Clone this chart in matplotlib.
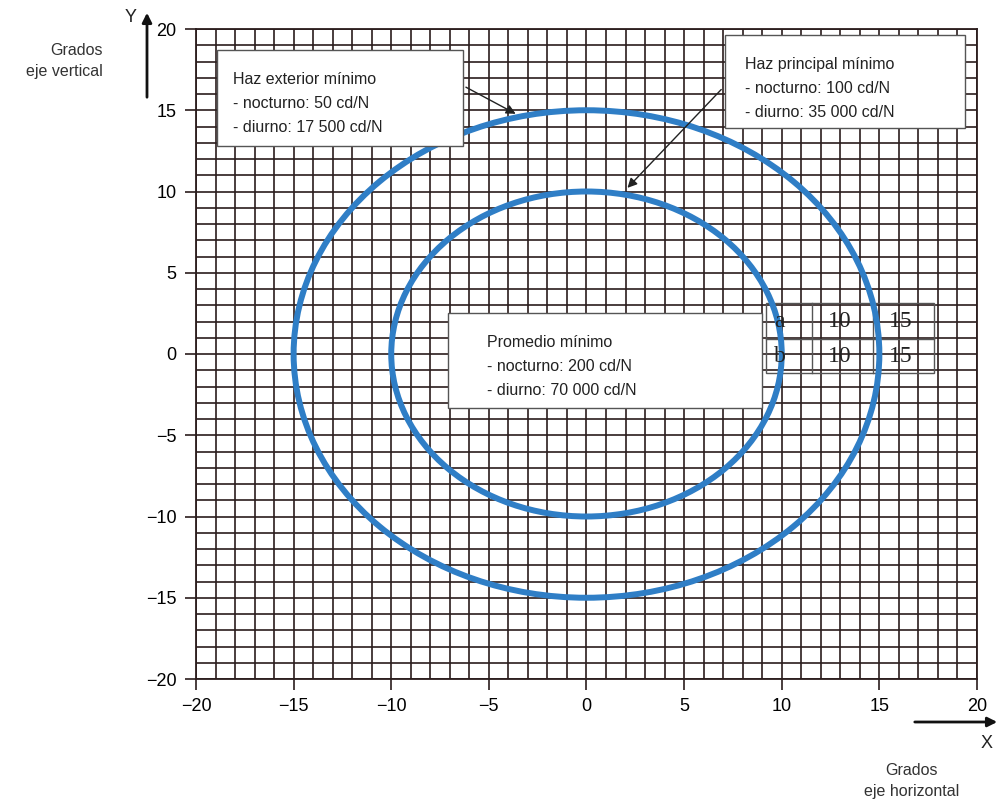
import matplotlib
matplotlib.use('Agg')
import matplotlib.pyplot as plt
from matplotlib.patches import Ellipse, Rectangle, FancyArrowPatch

# semiejes de las elipses (grados)
semi_a = [10, 15]
semi_b = [10, 15]
table_rows = [['a', '10', '15'], ['b', '10', '15']]

box_texts = [
    'Haz exterior mínimo\n- nocturno: 50 cd/N\n- diurno: 17 500 cd/N',
    'Haz principal mínimo\n- nocturno: 100 cd/N\n- diurno: 35 000 cd/N',
    'Promedio mínimo\n- nocturno: 200 cd/N\n- diurno: 70 000 cd/N',
]
# cajas: x0, y0, x1, y1 en grados
box_rect = [(-18.9, 12.8, -6.3, 18.7), (7.1, 13.9, 19.4, 19.6), (-7.1, -3.3, 9.0, 2.5)]
box_text_xy = [(-18.1, 17.35), (8.1, 18.25), (-5.1, 1.15)]
arrows = [((-6.3, 16.5), (-3.5, 14.7)), (( 7.0, 16.4), (2.0, 10.1))]

ticks = list(range(-20, 21, 5))
tick_labels = ['\u221220', '\u221215', '\u221210', '\u22125', '0', '5', '10', '15', '20']

plt.rcParams['font.family'] = ['Liberation Sans', 'DejaVu Sans']

fig = plt.figure(figsize=(10.01, 8), dpi=100)
ax = fig.add_axes([0.1958, 0.15125, 0.7802, 0.8125])
ax.set_xlim(-20, 20)
ax.set_ylim(-20, 20)

grid_col = '#2b1d1d'
ax.set_xticks(ticks)
ax.set_yticks(ticks)
ax.set_xticklabels(tick_labels, fontsize=13)
ax.set_yticklabels(tick_labels, fontsize=13)
ax.set_xticks(range(-20, 21), minor=True)
ax.set_yticks(range(-20, 21), minor=True)
ax.tick_params(which='major', direction='out', length=8, width=1.2, color=grid_col, pad=6)
ax.tick_params(which='minor', length=0)
ax.grid(True, which='both', color=grid_col, linewidth=1.2)
ax.set_axisbelow(True)
for s in ax.spines.values():
    s.set_color(grid_col)
    s.set_linewidth(1.3)

# tabla
tx0, tx1, ty0, ty1 = 9.2, 17.8, -1.17, 3.14
ymid = 0.92
ax.add_patch(Rectangle((tx0, ty0), tx1 - tx0, ty1 - ty0, fill=False, ec='#555555', lw=1, zorder=2))
ax.plot([tx0, tx1], [ymid, ymid], color='#555555', lw=1, zorder=2)
for xv in [11.55, 14.7]:
    ax.plot([xv, xv], [ty0, ty1], color='#555555', lw=1, zorder=2)
col_x = [9.9, 12.95, 16.1]
row_y = [1.97, -0.18]
for r, row in enumerate(table_rows):
    for c, val in enumerate(row):
        ax.text(col_x[c], row_y[r], val, ha='center', va='center', fontsize=17,
                family=['Liberation Serif', 'DejaVu Serif'], color='#222222', zorder=3.5)

# elipses
for a, b in zip(semi_a, semi_b):
    ax.add_patch(Ellipse((0, 0), 2 * a, 2 * b, fill=False, ec='#2f7ec6', lw=4.3, zorder=3))

# cajas de texto
for (x0, y0, x1, y1), (xt, yt), txt in zip(box_rect, box_text_xy, box_texts):
    ax.add_patch(Rectangle((x0, y0), x1 - x0, y1 - y0, fc='white', ec='#555555', lw=1, zorder=4))
    ax.text(xt, yt, txt, ha='left', va='top', fontsize=11.5, linespacing=1.75,
            color='#222222', zorder=5)

for (xs, ys), (xe, ye) in arrows:
    ax.annotate('', xy=(xe, ye), xytext=(xs, ys),
                arrowprops=dict(arrowstyle='-|>', color='#222222', lw=1, mutation_scale=14),
                zorder=6)

# ejes con flechas fuera del grafico
fig.patches.append(FancyArrowPatch(
    (147 / 1001, 1 - 100 / 800), (147 / 1001, 1 - 10 / 800), transform=fig.transFigure,
    arrowstyle='-|>', mutation_scale=14, lw=2, color='#111111'))
fig.text(131 / 1001, 1 - 18 / 800, 'Y', fontsize=13, ha='center', va='center', color='#222222')
fig.text(103 / 1001, 1 - 61 / 800, 'Grados\neje vertical', fontsize=11.5, ha='right', va='center',
         linespacing=1.5, color='#333333')

fig.patches.append(FancyArrowPatch(
    (912 / 1001, 1 - 722 / 800), (1000 / 1001, 1 - 722 / 800), transform=fig.transFigure,
    arrowstyle='-|>', mutation_scale=14, lw=2, color='#111111'))
fig.text(987 / 1001, 1 - 743 / 800, 'X', fontsize=13, ha='center', va='center', color='#222222')
fig.text(912 / 1001, 1 - 781 / 800, 'Grados\neje horizontal', fontsize=11.5, ha='center', va='center',
         linespacing=1.5, color='#333333')

fig.savefig('out.png', dpi=100)
